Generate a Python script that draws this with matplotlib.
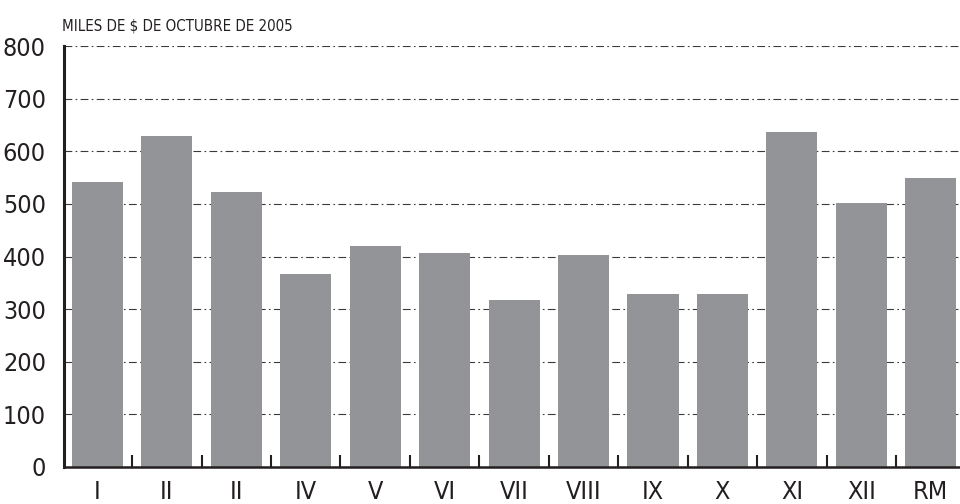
import matplotlib
matplotlib.use("Agg")
import matplotlib.pyplot as plt
import numpy as np

plt.rcParams['font.family'] = ['DejaVu Sans']
plt.rcParams['font.stretch'] = 'condensed'

categories = ["I", "II", "II", "IV", "V", "VI", "VII", "VIII", "IX", "X", "XI", "XII", "RM"]
values = [542, 629, 522, 367, 420, 407, 317, 403, 329, 329, 637, 502, 549]
yticks = [0, 100, 200, 300, 400, 500, 600, 700, 800]

fig = plt.figure(figsize=(9.6, 5.04), dpi=100)
ax = fig.add_axes([64/960, 37/504, 896/960, 421/504])

x = np.arange(len(categories))
ax.bar(x, values, width=0.735, color="#939498", zorder=2)

# gridlines: dash-dot, behind the bars
for y in yticks[1:]:
    ax.axhline(y, color="#3a3a3a", lw=0.8, dashes=(7, 3, 1.5, 3), zorder=1)

ax.set_ylim(0, 800)
ax.set_xlim(-0.48, 12.42)
ax.set_yticks(yticks)
ax.set_yticklabels([str(v) for v in yticks], fontsize=18, color="#231f20")
ax.tick_params(axis="y", length=0, pad=13)

ax.set_xticks(x)
ax.set_xticklabels(categories, fontsize=18, color="#231f20")
ax.tick_params(axis="x", length=0, pad=9.5)
ax.set_xticks(x[:-1] + 0.5, minor=True)
ax.tick_params(axis="x", which="minor", direction="in", length=9, width=1.5, color="#231f20")

for s in ["top", "right"]:
    ax.spines[s].set_visible(False)
ax.spines["left"].set_linewidth(2.2)
ax.spines["bottom"].set_linewidth(1.8)
ax.spines["left"].set_color("#231f20")
ax.spines["bottom"].set_color("#231f20")

fig.text(62/960, 1 - 26/504, "MILES DE $ DE OCTUBRE DE 2005", fontsize=10.8,
         color="#231f20", va="center", ha="left")

fig.savefig("out.png", dpi=100)
